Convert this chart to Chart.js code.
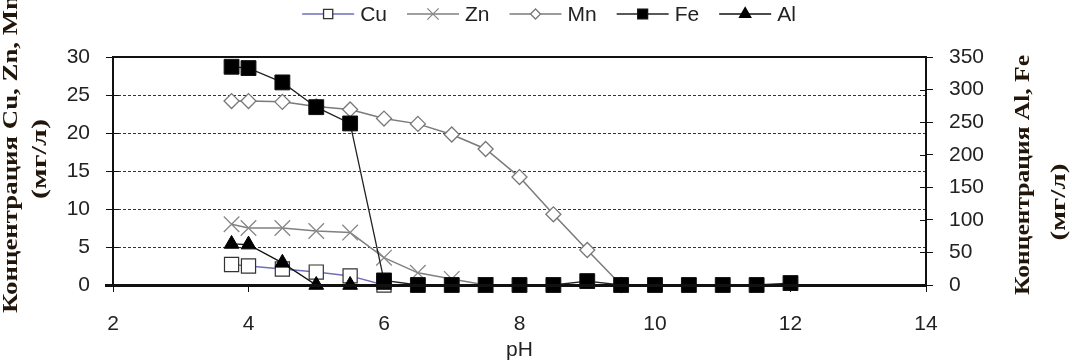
<!DOCTYPE html>
<html>
<head>
<meta charset="utf-8">
<script src="https://cdn.jsdelivr.net/npm/chart.js@4/dist/chart.umd.min.js"></script>
<style>
  html, body { margin: 0; padding: 0; background: #fff; }
  #wrap { width: 1076px; height: 361px; }
</style>
</head>
<body>
<div id="wrap"><canvas id="chart" width="1076" height="361"></canvas></div>
<script>
// pH values of the samples
const PH = [3.75, 4, 4.5, 5, 5.5, 6, 6.5, 7, 7.5, 8, 8.5, 9, 9.5, 10, 10.5, 11, 11.5, 12];

// left axis (мг/л)
const CU = [2.7, 2.5, 2.1, 1.7, 1.2, 0];
const ZN = [8.0, 7.5, 7.5, 7.1, 6.9, 3.6, 1.6, 0.8, 0];
const MN = [24.2, 24.2, 24.1, 23.5, 23.1, 21.9, 21.2, 19.8, 17.9, 14.2, 9.3, 4.6, 0];

// right axis (мг/л)
const FE = [335, 333, 311, 273, 248, 7, 0, 0, 0, 0, 0, 6, 0, 0, 0, 0, 0, 3];
const AL = [63, 62, 34, 0, 0, 0];

const X_TICKS = [2, 4, 6, 8, 10, 12, 14];
const LEFT_TITLE = ["Концентрация Cu, Zn, Mn", "(мг/л)"];
const RIGHT_TITLE = ["Концентрация Al, Fe", "(мг/л)"];
const X_TITLE = "pH";

const SANS = "'Liberation Sans', Arial, sans-serif";
const SERIF = "'Liberation Serif', 'Times New Roman', serif";

const pts = (ys) => ys.map((y, i) => ({ x: PH[i], y }));

const datasets = [
  { label: "Cu", data: pts(CU), yAxisID: "y", borderColor: "#6f6fb8", borderWidth: 1.5,
    pointStyle: "rect", pointRadius: 10, pointBorderColor: "#333", pointBackgroundColor: "#fff",
    pointBorderWidth: 1.2, order: 3, legendRadius: 6.5 },
  { label: "Zn", data: pts(ZN), yAxisID: "y", borderColor: "#808080", borderWidth: 1.5,
    pointStyle: "crossRot", pointRadius: 11, pointBorderColor: "#888", pointBorderWidth: 1.3,
    order: 4, legendRadius: 8 },
  { label: "Mn", data: pts(MN), yAxisID: "y", borderColor: "#7a7a7a", borderWidth: 1.5,
    pointStyle: "rectRot", pointRadius: 7.5, pointBorderColor: "#777", pointBackgroundColor: "#fff",
    pointBorderWidth: 1.3, order: 2, legendRadius: 5 },
  { label: "Fe", data: pts(FE), yAxisID: "y2", borderColor: "#222", borderWidth: 1.3,
    pointStyle: "rect", pointRadius: 10.5, pointBorderColor: "#111", pointBackgroundColor: "#000",
    pointBorderWidth: 1, order: 0, legendRadius: 7 },
  { label: "Al", data: pts(AL), yAxisID: "y2", borderColor: "#111", borderWidth: 1.3,
    pointStyle: "triangle", pointRadius: 8.5, pointBorderColor: "#000", pointBackgroundColor: "#000",
    pointBorderWidth: 1, order: 1, legendRadius: 6.5 }
];

function drawMarker(ctx, ds, x, y, r) {
  Chart.helpers.drawPoint(ctx, {
    pointStyle: ds.pointStyle, radius: r, borderWidth: ds.pointBorderWidth, rotation: 0
  }, x, y);
}

function segment(ctx, x1, y1, x2, y2, w) {
  ctx.lineWidth = w;
  ctx.beginPath();
  ctx.moveTo(x1, y1);
  ctx.lineTo(x2, y2);
  ctx.stroke();
}

// vertical text read bottom to top, stretched along its length to `len` px
function vtext(ctx, text, x, cy, len) {
  const w = ctx.measureText(text).width;
  ctx.save();
  ctx.translate(x, cy);
  ctx.rotate(-Math.PI / 2);
  ctx.scale(len / w, 1);
  ctx.textAlign = "center";
  ctx.textBaseline = "alphabetic";
  ctx.fillText(text, 0, 0);
  ctx.restore();
}

const decorPlugin = {
  id: "decor",
  afterDraw(chart) {
    const { ctx, scales } = chart;
    const L = Math.round(scales.y.right), R = Math.round(scales.y2.left);
    const T = Math.round(scales.y.top), B = Math.round(scales.y.bottom);
    ctx.save();
    ctx.setLineDash([]);

    // frame round the plot, heavier bottom axis
    ctx.fillStyle = "#111";
    ctx.fillRect(L - 1, T - 1, R - L + 2, 2);
    ctx.fillRect(L - 1, T - 1, 2, B - T + 2);
    ctx.fillRect(R - 1, T - 1, 2, B - T + 2);
    ctx.fillRect(L - 8, B - 1, R - L + 9, 3);

    // inner halves of the y tick marks
    scales.y.ticks.forEach((t) => {
      const py = Math.round(scales.y.getPixelForValue(t.value));
      ctx.fillRect(L, py, 6, 1);
    });
    scales.y2.ticks.forEach((t) => {
      const py = Math.round(scales.y2.getPixelForValue(t.value));
      ctx.fillRect(R - 6, py, 6, 1);
    });

    // legend
    ctx.font = "21px " + SANS;
    ctx.textBaseline = "middle";
    const lineLen = 52, gap = 6, spacing = 20, ly = 14;
    let total = 0;
    datasets.forEach((ds) => { total += lineLen + gap + ctx.measureText(ds.label).width; });
    total += spacing * (datasets.length - 1);
    let lx = 549 - total / 2;
    datasets.forEach((ds) => {
      ctx.strokeStyle = ds.borderColor;
      segment(ctx, lx, ly, lx + lineLen, ly, 1.3);
      ctx.strokeStyle = ds.pointBorderColor;
      ctx.fillStyle = ds.pointBackgroundColor || "#fff";
      drawMarker(ctx, ds, lx + lineLen / 2, ly, ds.legendRadius);
      ctx.fillStyle = "#222";
      ctx.textAlign = "left";
      ctx.fillText(ds.label, lx + lineLen + gap, ly + 1);
      lx += lineLen + gap + ctx.measureText(ds.label).width + spacing;
    });

    // vertical axis titles
    ctx.fillStyle = "#22150a";
    ctx.font = "bold 20px " + SERIF;
    vtext(ctx, LEFT_TITLE[0], 17, 154, 318);
    vtext(ctx, LEFT_TITLE[1], 46, 159, 80);
    vtext(ctx, RIGHT_TITLE[0], 1029, 175, 240);
    vtext(ctx, RIGHT_TITLE[1], 1065, 202, 77);

    ctx.restore();
  }
};

new Chart(document.getElementById("chart"), {
  type: "scatter",
  data: { datasets: datasets.map((d) => ({ ...d, showLine: true, tension: 0, clip: false })) },
  options: {
    responsive: false,
    animation: false,
    devicePixelRatio: 1,
    layout: { padding: { top: 57, left: 0, right: 0, bottom: 0 } },
    plugins: { legend: { display: false }, tooltip: { enabled: false } },
    scales: {
      x: {
        type: "linear", min: 2, max: 14,
        afterBuildTicks: (s) => { s.ticks = X_TICKS.map((v) => ({ value: v })); },
        afterFit: (s) => { s.height = 76; },
        grid: { drawOnChartArea: false, tickLength: 7, color: "#111" },
        border: { display: false },
        ticks: { font: { family: SANS, size: 21 }, color: "#222", padding: 20, maxRotation: 0 },
        title: { display: true, text: X_TITLE, font: { family: SANS, size: 21, lineHeight: 1 },
                 color: "#222", padding: { top: 0, bottom: 0 } }
      },
      y: {
        position: "left", min: 0, max: 30,
        afterFit: (s) => { s.width = 113; },
        grid: {
          color: (c) => (c.tick && c.tick.value > 0 && c.tick.value < 30 ? "#333" : "rgba(0,0,0,0)"),
          tickColor: "#111", tickLength: 7, lineWidth: 1
        },
        border: { display: false, dash: [3, 2] },
        ticks: { stepSize: 5, font: { family: SANS, size: 21 }, color: "#222", padding: 16 }
      },
      y2: {
        position: "right", min: 0, max: 350,
        afterFit: (s) => { s.width = 150; },
        grid: { drawOnChartArea: false, tickColor: "#111", tickLength: 7 },
        border: { display: false },
        ticks: { stepSize: 50, font: { family: SANS, size: 21 }, color: "#222", padding: 16 }
      }
    }
  },
  plugins: [decorPlugin]
});
</script>
</body>
</html>
